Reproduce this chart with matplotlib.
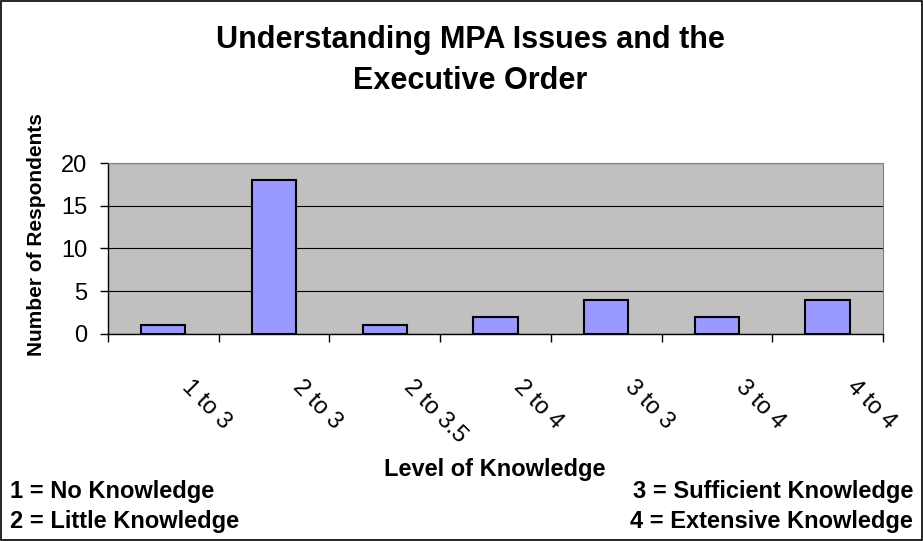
import matplotlib.pyplot as plt
from matplotlib.patches import Rectangle

plt.rcParams["font.family"] = ["Liberation Sans", "DejaVu Sans"]

categories = ["1 to 3", "2 to 3", "2 to 3.5", "2 to 4", "3 to 3", "3 to 4", "4 to 4"]
respondents = [1, 18, 1, 2, 4, 2, 4]
y_ticks = [0, 5, 10, 15, 20]
key_left = ["1 = No Knowledge", "2 = Little Knowledge"]
key_right = ["3 = Sufficient Knowledge", "4 = Extensive Knowledge"]

W, H = 923, 541
fig = plt.figure(figsize=(W / 100, H / 100), dpi=100)

# plot area in pixels: x 108..883, y 163..334
ax = fig.add_axes([108 / W, 1 - 334 / H, (883 - 108) / W, (334 - 163) / H])
ax.set_facecolor("#C0C0C0")
x = list(range(len(categories)))
ax.bar(x, respondents, width=0.4, color="#9999FF", edgecolor="black", linewidth=1.5, zorder=3)

ax.set_xlim(-0.5, len(categories) - 0.5)
ax.set_ylim(0, 20)
ax.set_yticks(y_ticks)
ax.set_yticklabels([str(v) for v in y_ticks], fontsize=17)
ax.yaxis.grid(True, color="black", linewidth=0.8, zorder=1)

# ticks sit on the category boundaries, labels go in between
ax.set_xticks([i - 0.5 for i in range(len(categories) + 1)])
ax.set_xticklabels([])
for i, label in enumerate(categories):
    ax.annotate(label, xy=(i, 0), xycoords=("data", "axes fraction"),
                xytext=(16, -36), textcoords="offset points",
                rotation=-45, rotation_mode="anchor", ha="left", va="center",
                fontsize=17)
ax.tick_params(axis="x", direction="out", length=6, width=1)
ax.tick_params(axis="y", direction="out", length=6, width=1, pad=9)

for side in ["top", "right"]:
    ax.spines[side].set_color("#808080")
for side in ["left", "bottom"]:
    ax.spines[side].set_color("black")
    ax.spines[side].set_linewidth(1)

fig.text(470 / W, 1 - 40 / H, "Understanding MPA Issues and the",
         ha="center", va="center", fontsize=22, fontweight="bold")
fig.text(470 / W, 1 - 81 / H, "Executive Order",
         ha="center", va="center", fontsize=22, fontweight="bold")
fig.text(37 / W, 1 - 235 / H, "Number of Respondents", rotation=90,
         ha="center", va="center", fontsize=15, fontweight="bold")
fig.text(495 / W, 1 - 476 / H, "Level of Knowledge",
         ha="center", va="baseline", fontsize=17, fontweight="bold")

for i, label in enumerate(key_left):
    fig.text(10 / W, 1 - (498 + 30 * i) / H, label, ha="left", va="baseline",
             fontsize=17, fontweight="bold")
for i, label in enumerate(key_right):
    fig.text(913 / W, 1 - (498 + 30 * i) / H, label, ha="right", va="baseline",
             fontsize=17, fontweight="bold")

fig.patches.append(Rectangle((1 / W, 1 / H), 1 - 2 / W, 1 - 2 / H, transform=fig.transFigure,
                             fill=False, edgecolor="black", linewidth=1.2))

fig.savefig("out.png", dpi=100)
